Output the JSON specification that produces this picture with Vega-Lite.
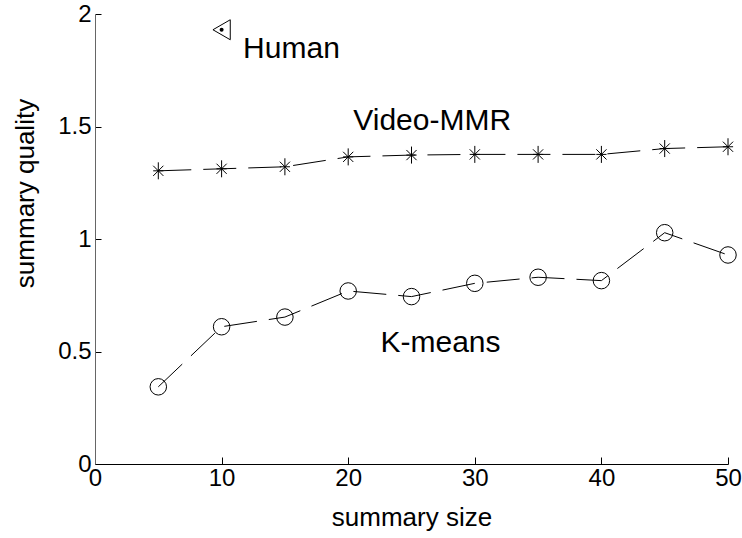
{
  "$schema": "https://vega.github.io/schema/vega-lite/v6.json",
  "width": 633,
  "height": 450,
  "autosize": {"type": "none"},
  "padding": {"left": 95, "top": 14, "right": 14, "bottom": 74},
  "background": "white",
  "config": {
    "view": {"stroke": null},
    "axis": {
      "grid": false,
      "labelFont": "Liberation Sans",
      "labelFontSize": 24,
      "labelColor": "black",
      "titleFont": "Liberation Sans",
      "titleFontSize": 26,
      "titleFontWeight": "normal",
      "titleColor": "black",
      "domainColor": "black",
      "tickColor": "black",
      "labelOverlap": false,
      "labelFlush": false
    }
  },
  "datasets": {
    "series": [
      {"series": "Video-MMR", "size": 5, "quality": 1.303},
      {"series": "Video-MMR", "size": 10, "quality": 1.312},
      {"series": "Video-MMR", "size": 15, "quality": 1.321},
      {"series": "Video-MMR", "size": 20, "quality": 1.365},
      {"series": "Video-MMR", "size": 25, "quality": 1.373},
      {"series": "Video-MMR", "size": 30, "quality": 1.376},
      {"series": "Video-MMR", "size": 35, "quality": 1.376},
      {"series": "Video-MMR", "size": 40, "quality": 1.376},
      {"series": "Video-MMR", "size": 45, "quality": 1.402},
      {"series": "Video-MMR", "size": 50, "quality": 1.41},
      {"series": "K-means", "size": 5, "quality": 0.343},
      {"series": "K-means", "size": 10, "quality": 0.61},
      {"series": "K-means", "size": 15, "quality": 0.653},
      {"series": "K-means", "size": 20, "quality": 0.769},
      {"series": "K-means", "size": 25, "quality": 0.744},
      {"series": "K-means", "size": 30, "quality": 0.803},
      {"series": "K-means", "size": 35, "quality": 0.83},
      {"series": "K-means", "size": 40, "quality": 0.815},
      {"series": "K-means", "size": 45, "quality": 1.028},
      {"series": "K-means", "size": 50, "quality": 0.929},
      {"series": "Human", "size": 10, "quality": 1.93}
    ],
    "labels": [
      {"label": "Human", "size": 11.7, "quality": 1.806},
      {"label": "Video-MMR", "size": 20.4, "quality": 1.484},
      {"label": "K-means", "size": 22.55, "quality": 0.496}
    ]
  },
  "layer": [
    {
      "data": {"name": "series"},
      "transform": [{"filter": "datum.series !== 'Human'"}],
      "mark": {"type": "line", "color": "black", "strokeWidth": 1, "strokeDash": [33, 12]},
      "encoding": {
        "x": {
          "field": "size", "type": "quantitative",
          "scale": {"domain": [0, 50], "nice": false},
          "axis": {
            "title": "summary size",
            "values": [0, 10, 20, 30, 40, 50],
            "tickSize": -7,
            "labelPadding": 9,
            "titleBaseline": "alphabetic",
            "titleY": 61
          }
        },
        "y": {
          "field": "quality", "type": "quantitative",
          "scale": {"domain": [0, 2], "nice": false},
          "axis": {
            "title": "summary quality",
            "values": [0, 0.5, 1, 1.5, 2],
            "labelExpr": "datum.value + ''",
            "tickSize": -6,
            "labelPadding": 10,
            "domainColor": "#666",
            "titleBaseline": "alphabetic",
            "titleX": -62,
            "titleY": 179
          }
        },
        "detail": {"field": "series"}
      }
    },
    {
      "data": {"name": "series"},
      "transform": [{"filter": "datum.series === 'Video-MMR'"}],
      "mark": {
        "type": "point",
        "shape": "M0,-1L0,1M-0.6,-0.6L0.6,0.6M-0.6,0.6L0.6,-0.6M-0.6,0L0.6,0",
        "size": 289,
        "filled": false,
        "color": "black",
        "strokeWidth": 1,
        "opacity": 1
      },
      "encoding": {
        "x": {"field": "size", "type": "quantitative"},
        "y": {"field": "quality", "type": "quantitative"}
      }
    },
    {
      "data": {"name": "series"},
      "transform": [{"filter": "datum.series === 'K-means'"}],
      "mark": {
        "type": "point",
        "shape": "circle",
        "size": 272,
        "filled": false,
        "color": "black",
        "strokeWidth": 1,
        "opacity": 1
      },
      "encoding": {
        "x": {"field": "size", "type": "quantitative"},
        "y": {"field": "quality", "type": "quantitative"}
      }
    },
    {
      "data": {"name": "series"},
      "transform": [{"filter": "datum.series === 'Human'"}],
      "mark": {
        "type": "point",
        "shape": "triangle-left",
        "size": 400,
        "filled": false,
        "color": "black",
        "strokeWidth": 1,
        "opacity": 1
      },
      "encoding": {
        "x": {"field": "size", "type": "quantitative"},
        "y": {"field": "quality", "type": "quantitative"}
      }
    },
    {
      "data": {"name": "series"},
      "transform": [{"filter": "datum.series === 'Human'"}],
      "mark": {
        "type": "point",
        "shape": "circle",
        "size": 16,
        "filled": true,
        "color": "black",
        "opacity": 1
      },
      "encoding": {
        "x": {"field": "size", "type": "quantitative"},
        "y": {"field": "quality", "type": "quantitative"}
      }
    },
    {
      "data": {"name": "labels"},
      "mark": {
        "type": "text",
        "font": "Liberation Sans",
        "fontSize": 30,
        "align": "left",
        "baseline": "alphabetic",
        "color": "black"
      },
      "encoding": {
        "x": {"field": "size", "type": "quantitative"},
        "y": {"field": "quality", "type": "quantitative"},
        "text": {"field": "label"}
      }
    }
  ]
}
